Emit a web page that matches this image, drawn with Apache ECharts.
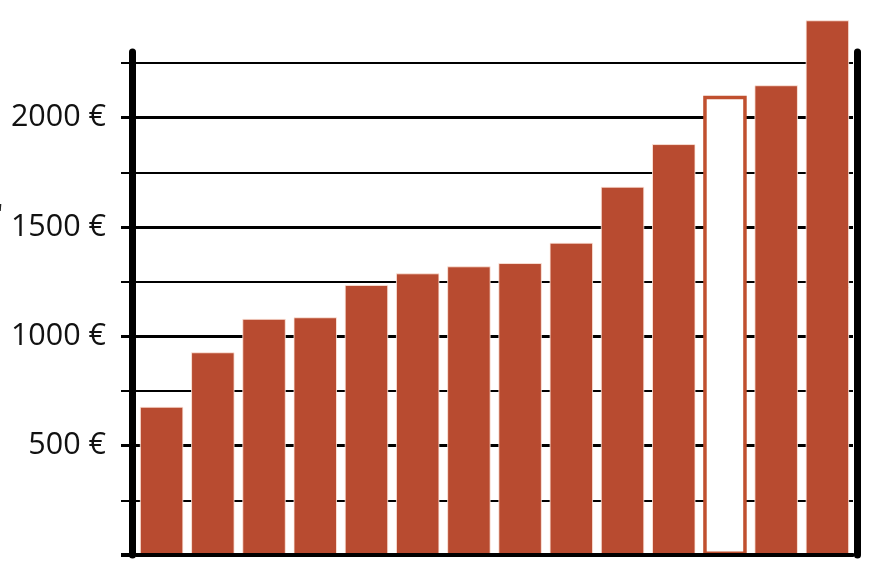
<!DOCTYPE html>
<html>
<head>
<meta charset="utf-8">
<script src="https://cdn.jsdelivr.net/npm/echarts@6/dist/echarts.min.js"></script>
<style>
  html, body { margin: 0; padding: 0; background: #fff; }
  #chart { width: 872px; height: 580px; }
</style>
</head>
<body>
<div id="chart"></div>
<script>
// ---- data ----
const categories = ['1','2','3','4','5','6','7','8','9','10','11','12','13','14'];
const values = [678, 927, 1080, 1087, 1235, 1288, 1320, 1335, 1428, 1684, 1879, 2100, 2148, 2445];
const highlightIndex = 11; // outlined bar
const majorTicks = [500, 1000, 1500, 2000];
const minorTicks = [250, 750, 1250, 1750, 2250];
const zeroTick = [0];

const BAR = '#B84B30';

const seriesData = values.map((v, i) => {
  if (i === highlightIndex) {
    return { value: v, itemStyle: { color: '#ffffff', borderColor: '#C0502F', borderWidth: 3.5 } };
  }
  return v;
});

const baseY = { type: 'value', min: 0, max: 2300, interval: 250, position: 'left', offset: 4 };

const chart = echarts.init(document.getElementById('chart'), null, { renderer: 'canvas' });
chart.setOption({
  animation: false,
  backgroundColor: '#ffffff',
  grid: { left: 136, right: 19, top: 52, bottom: 25, containLabel: false },
  xAxis: {
    type: 'category',
    data: categories,
    z: 3,
    axisLine: { show: true, lineStyle: { color: '#000', width: 4 } },
    axisTick: { show: false },
    axisLabel: { show: false },
    splitLine: { show: false }
  },
  yAxis: [
    Object.assign({}, baseY, {
      axisLine: { show: true, lineStyle: { color: '#000', width: 7 } },
      axisTick: { show: true, customValues: majorTicks, length: 11, lineStyle: { color: '#000', width: 3 } },
      axisLabel: {
        show: true, customValues: majorTicks, margin: 26,
        formatter: function (v) { return v + ' €'; },
        fontFamily: 'Open Sans', fontSize: 30.5, color: '#111'
      },
      splitLine: { show: true, showMaxLine: true, showMinLine: true, lineStyle: { color: '#000', width: 3 } }
    }),
    Object.assign({}, baseY, {
      axisLine: { show: false },
      axisTick: { show: true, customValues: minorTicks, length: 11, lineStyle: { color: '#000', width: 2 } },
      axisLabel: { show: false },
      splitLine: { show: true, showMaxLine: true, showMinLine: true, lineStyle: { color: '#000', width: 2 } }
    }),
    Object.assign({}, baseY, {
      axisLine: { show: false },
      axisTick: { show: true, customValues: zeroTick, length: 11, lineStyle: { color: '#000', width: 4 } },
      axisLabel: { show: false },
      splitLine: { show: false }
    }),
    {
      type: 'value', min: 0, max: 2300, interval: 500,
      position: 'right', offset: 4.5,
      axisLine: { show: true, lineStyle: { color: '#000', width: 7 } },
      axisTick: { show: false },
      axisLabel: { show: false },
      splitLine: { show: false }
    }
  ],
  graphic: [
    { type: 'text', left: -3, top: 202, style: { text: "'", fontSize: 28, fontFamily: 'Open Sans', fill: '#222' } }
  ],
  series: [{
    type: 'bar',
    data: seriesData,
    yAxisIndex: 0,
    barWidth: 43.5,
    clip: false,
    z: 2,
    itemStyle: { color: BAR, borderColor: 'rgba(255,235,225,0.8)', borderWidth: 1 }
  }]
});
</script>
</body>
</html>
